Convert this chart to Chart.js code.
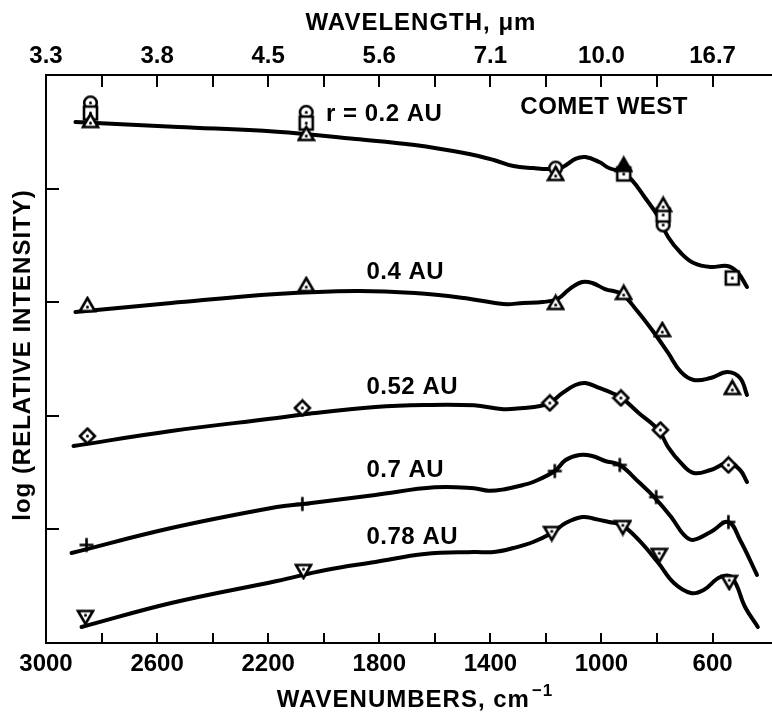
<!DOCTYPE html>
<html><head><meta charset="utf-8">
<script src="https://cdn.jsdelivr.net/npm/chart.js@4/dist/chart.umd.min.js"></script>
<style>html,body{margin:0;padding:0;background:#fff}#wrap{width:772px;height:713px}</style>
</head><body><div id="wrap"><canvas id="c" width="772" height="713"></canvas></div>
<script>
// ---------- DATA (wavenumber cm^-1, log relative intensity, arbitrary offset units) ----------
const bottomTicks = [3000, 2600, 2200, 1800, 1400, 1000, 600];
const topTickLabels = ['3.3', '3.8', '4.5', '5.6', '7.1', '10.0', '16.7'];
const curveLabels = ['r = 0.2 AU', '0.4 AU', '0.52 AU', '0.7 AU', '0.78 AU'];

// smooth fitted curves
const wn02 = [2894, 2524, 2169, 1885, 1672, 1495, 1388, 1317, 1246, 1186, 1140, 1094, 1058, 1008, 973, 927, 891, 845, 795, 760, 714, 668, 607, 547, 511, 476];
const y02  = [4.586, 4.542, 4.501, 4.437, 4.384, 4.313, 4.252, 4.199, 4.181, 4.173, 4.190, 4.261, 4.278, 4.234, 4.181, 4.146, 4.076, 3.926, 3.750, 3.574, 3.433, 3.345, 3.310, 3.319, 3.266, 3.134];
const wn04 = [2894, 2549, 2169, 1885, 1672, 1495, 1353, 1282, 1211, 1158, 1115, 1069, 1033, 987, 927, 874, 810, 760, 714, 668, 607, 547, 501, 476];
const y04  = [2.914, 2.993, 3.072, 3.099, 3.081, 3.037, 2.984, 2.993, 3.002, 3.028, 3.116, 3.178, 3.169, 3.116, 3.072, 2.931, 2.729, 2.553, 2.386, 2.315, 2.333, 2.386, 2.333, 2.183];
const wn052 = [2901, 2549, 2169, 2063, 1814, 1637, 1459, 1353, 1282, 1221, 1186, 1140, 1094, 1058, 1008, 962, 927, 866, 795, 760, 714, 668, 607, 543, 501, 476];
const y052  = [1.734, 1.866, 1.981, 2.016, 2.077, 2.095, 2.092, 2.058, 2.069, 2.086, 2.113, 2.201, 2.271, 2.289, 2.245, 2.201, 2.157, 2.025, 1.875, 1.725, 1.585, 1.496, 1.523, 1.585, 1.523, 1.417];
const wn07 = [2908, 2549, 2169, 2073, 1814, 1601, 1459, 1406, 1353, 1282, 1246, 1168, 1129, 1079, 1033, 987, 934, 866, 810, 749, 703, 671, 607, 543, 501, 440];
const y07  = [0.792, 1.012, 1.197, 1.224, 1.303, 1.370, 1.362, 1.340, 1.352, 1.391, 1.417, 1.514, 1.611, 1.655, 1.646, 1.602, 1.567, 1.417, 1.285, 1.109, 0.951, 0.907, 0.977, 1.065, 0.907, 0.599];
const wn078 = [2872, 2549, 2169, 1992, 1814, 1637, 1459, 1388, 1317, 1246, 1179, 1129, 1069, 1023, 973, 927, 866, 795, 739, 678, 632, 572, 529, 483, 437];
const y078  = [0.141, 0.352, 0.546, 0.643, 0.713, 0.783, 0.801, 0.801, 0.836, 0.889, 0.968, 1.056, 1.109, 1.092, 1.065, 1.039, 0.907, 0.704, 0.528, 0.440, 0.467, 0.581, 0.572, 0.317, 0.141];

// measured points (r = 0.2 AU has several observation sets)
const wn02circ = [2840, 2063, 1165, 778];
const y02circ  = [4.755, 4.672, 4.181, 3.680];
const wn02sq   = [2840, 2063, 920, 778, 529];
const y02sq    = [4.665, 4.577, 4.129, 3.768, 3.213];
const wn02tri  = [2840, 2063, 1165, 778];
const y02tri   = [4.595, 4.481, 4.129, 3.856];
const wn02fill = [920];
const y02fill  = [4.208];
const wn04pts  = [2851, 2063, 1165, 920, 781, 529];
const y04pts   = [2.975, 3.151, 2.993, 3.081, 2.755, 2.245];
const wn052pts = [2851, 2077, 1186, 930, 788, 543];
const y052pts  = [1.822, 2.069, 2.113, 2.157, 1.875, 1.567];
const wn07pts  = [2854, 2077, 1168, 934, 803, 543];
const y07pts   = [0.863, 1.224, 1.514, 1.567, 1.285, 1.065];
const wn078pts = [2858, 2073, 1179, 923, 792, 540];
const y078pts  = [0.229, 0.634, 0.968, 1.021, 0.775, 0.537];

// ---------- helpers ----------
const zip = (xs, ys) => xs.map((x, i) => ({x: x, y: ys[i]}));
const FONT = '"Liberation Sans", Arial, Helvetica, sans-serif';

function symbol(kind) {
  const s = 19, c = document.createElement('canvas');
  c.width = s; c.height = s;
  const g = c.getContext('2d');
  const m = s / 2;
  g.lineWidth = 2.6; g.strokeStyle = '#000'; g.fillStyle = '#fff';
  g.lineJoin = 'miter';
  let dotY = m;
  g.beginPath();
  if (kind === 'tri' || kind === 'fill') {
    g.moveTo(m, 2.5); g.lineTo(s - 2, s - 3.5); g.lineTo(2, s - 3.5); g.closePath();
    dotY = m + 2;
  } else if (kind === 'inv') {
    g.moveTo(2, 3.5); g.lineTo(s - 2, 3.5); g.lineTo(m, s - 2.5); g.closePath();
    dotY = m - 1.8;
  } else if (kind === 'sq') {
    g.rect(3, 3, s - 6, s - 6);
  } else if (kind === 'circ') {
    g.arc(m, m, 6.3, 0, Math.PI * 2);
  } else if (kind === 'dia') {
    g.moveTo(m, 2); g.lineTo(s - 2, m); g.lineTo(m, s - 2); g.lineTo(2, m); g.closePath();
  }
  if (kind === 'plus') {
    g.moveTo(m, 2.5); g.lineTo(m, s - 2.5); g.moveTo(2.5, m); g.lineTo(s - 2.5, m);
    g.lineWidth = 2.6; g.stroke();
    return c;
  }
  if (kind === 'fill') { g.fillStyle = '#000'; }
  g.fill(); g.stroke();
  if (kind !== 'fill') {
    g.fillStyle = '#000'; g.beginPath(); g.arc(m, dotY, 1.5, 0, Math.PI * 2); g.fill();
  }
  return c;
}

function curve(xs, ys) {
  return {type: 'line', data: zip(xs, ys), borderColor: '#000', borderWidth: 4,
          pointRadius: 0, fill: false, tension: 0.4, order: 10,
          borderCapStyle: 'round', borderJoinStyle: 'round'};
}
function marks(xs, ys, kind, order) {
  return {type: 'scatter', data: zip(xs, ys), pointStyle: symbol(kind), pointRadius: 9,
          showLine: false, order: order};
}

// ---------- axes / text plugin ----------
const frame = {
  id: 'frame',
  beforeDatasetsDraw(chart) {
    const {ctx, chartArea: a, scales: {x, y}} = chart;
    ctx.save();
    ctx.strokeStyle = '#000'; ctx.lineWidth = 2; ctx.lineCap = 'butt';
    ctx.beginPath();
    ctx.moveTo(a.left, a.top - 1); ctx.lineTo(a.left, a.bottom + 1);
    ctx.moveTo(a.left - 1, a.top); ctx.lineTo(chart.width, a.top);
    ctx.moveTo(a.left - 1, a.bottom); ctx.lineTo(chart.width, a.bottom);
    ctx.stroke();
    ctx.beginPath();
    for (let v = 2800; v >= x.min; v -= 200) {
      const px = Math.round(x.getPixelForValue(v));
      ctx.moveTo(px, a.bottom); ctx.lineTo(px, a.bottom - 10);
      ctx.moveTo(px, a.top); ctx.lineTo(px, a.top + 12);
    }
    for (let v = 1; v <= 4; v++) {
      const py = Math.round(y.getPixelForValue(v));
      ctx.moveTo(a.left, py); ctx.lineTo(a.left + 13, py);
    }
    ctx.stroke();
    ctx.restore();
  },
  afterDraw(chart) {
    const {ctx, chartArea: a, scales: {x, y}} = chart;
    ctx.save();
    ctx.fillStyle = '#000';
    ctx.font = 'bold 24px ' + FONT;
    ctx.textAlign = 'center'; ctx.textBaseline = 'middle';
    bottomTicks.forEach((v, i) => {
      const px = x.getPixelForValue(v);
      ctx.fillText(String(v), px, 664);
      ctx.fillText(topTickLabels[i], px, 56);
    });
    // top title
    ctx.letterSpacing = '1px';
    ctx.fillText('WAVELENGTH, \u03bcm', 421, 23);
    // bottom title with superscript
    const main = 'WAVENUMBERS, cm';
    const w1 = ctx.measureText(main).width;
    ctx.font = 'bold 17px ' + FONT;
    const w2 = ctx.measureText('\u22121').width;
    const x0 = 415 - (w1 + w2 + 2) / 2;
    ctx.textAlign = 'left';
    ctx.font = 'bold 24px ' + FONT;
    ctx.fillText(main, x0, 700);
    ctx.font = 'bold 17px ' + FONT;
    ctx.fillText('\u22121', x0 + w1 + 2, 691);
    // y title
    ctx.font = 'bold 24px ' + FONT;
    ctx.save();
    ctx.translate(23, 355); ctx.rotate(-Math.PI / 2);
    ctx.textAlign = 'center';
    ctx.fillText('log (RELATIVE INTENSITY)', 0, 0);
    ctx.restore();
    // curve labels, anchored in data coordinates
    ctx.letterSpacing = '0.5px';
    ctx.textAlign = 'left';
    const anchors = [[1992, 4.657], [1846, 3.266], [1846, 2.254], [1846, 1.523], [1846, 0.933]];
    curveLabels.forEach((t, i) => {
      ctx.fillText(t, x.getPixelForValue(anchors[i][0]), y.getPixelForValue(anchors[i][1]));
    });
    ctx.fillText('COMET WEST', x.getPixelForValue(1292), y.getPixelForValue(4.718));
    ctx.restore();
  }
};

new Chart(document.getElementById('c'), {
  data: {
    datasets: [
      curve(wn02, y02), curve(wn04, y04), curve(wn052, y052), curve(wn07, y07), curve(wn078, y078),
      marks(wn02circ, y02circ, 'circ', 5),
      marks(wn02sq, y02sq, 'sq', 4),
      marks(wn02tri, y02tri, 'tri', 3),
      marks(wn02fill, y02fill, 'fill', 3),
      marks(wn04pts, y04pts, 'tri', 2),
      marks(wn052pts, y052pts, 'dia', 2),
      marks(wn07pts, y07pts, 'plus', 2),
      marks(wn078pts, y078pts, 'inv', 2)
    ]
  },
  options: {
    responsive: false, animation: false, devicePixelRatio: 1,
    layout: {padding: {left: 46, top: 75, right: 0, bottom: 70}},
    plugins: {legend: {display: false}, tooltip: {enabled: false}},
    scales: {
      x: {type: 'linear', reverse: true, min: 422, max: 3000, display: false},
      y: {type: 'linear', min: 0, max: 5, display: false}
    }
  },
  plugins: [frame]
});
</script>
</body></html>
